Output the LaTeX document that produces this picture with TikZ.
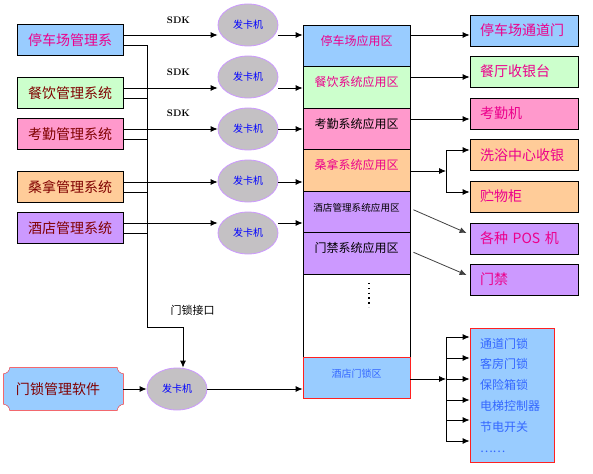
\documentclass[tikz,border=0pt]{standalone}
\usepackage{fontspec}
\newfontfamily\cjk{Noto Sans CJK SC}
\usepackage{tikz}
\usetikzlibrary{arrows.meta, shapes.geometric, backgrounds}
\definecolor{skyfill}{HTML}{99CCFF}
\definecolor{mintfill}{HTML}{CCFFCC}
\definecolor{rosefill}{HTML}{FF99CC}
\definecolor{peachfill}{HTML}{FFCC99}
\definecolor{lilacfill}{HTML}{CC99FF}
\definecolor{cardgray}{HTML}{C4C1C4}
\definecolor{cardline}{HTML}{CC99FF}
\definecolor{darkred}{HTML}{800000}
\definecolor{lockblue}{HTML}{3366FF}
\definecolor{lockred}{HTML}{FF2020}
\newlength{\zoneheight}
\setlength{\zoneheight}{41.5pt}
\tikzset{sysbox/.style = {shape=rectangle,draw,minimum width=106pt,minimum height=31pt,inner sep=0pt,text=darkred,font=\cjk\fontsize{14}{14}\selectfont}}
\tikzset{card/.style = {shape=ellipse,draw=cardline,fill=cardgray,minimum width=60pt,minimum height=42pt,inner sep=0pt,text=blue,font=\cjk\fontsize{10}{10}\selectfont}}
\tikzset{zone/.style = {shape=rectangle,draw,minimum width=107pt,minimum height=\zoneheight,inner sep=0pt,text height=10pt,text depth=11pt,font=\cjk\fontsize{12}{12}\selectfont}}
\tikzset{device/.style = {shape=rectangle,draw,minimum width=108pt,minimum height=31pt,text width=88pt,align=left,inner xsep=10pt,inner ysep=0pt,text=magenta,font=\cjk\fontsize{14}{14}\selectfont}}
\tikzset{sdk/.style = {font=\bfseries\fontsize{9.5}{9.5}\selectfont}}
\tikzset{edge/.style = {->,> = {Latex[length=7pt,width=6pt]}}}

\begin{document}
\begin{tikzpicture}[x=1pt,y=1pt,line width=0.8pt]
        \useasboundingbox (0,0) rectangle (593,-473);
        % management systems
        \node[sysbox,fill=skyfill,text=magenta] (s1) at (70,-40) {停车场管理系};
        \node[sysbox,fill=mintfill] (s2) at (70,-93) {餐饮管理系统};
        \node[sysbox,fill=rosefill] (s3) at (70,-134) {考勤管理系统};
        \node[sysbox,fill=peachfill] (s4) at (70,-187) {桑拿管理系统};
        \node[sysbox,fill=lilacfill] (s5) at (70,-228) {酒店管理系统};
        \node[sysbox,draw=none,minimum width=119pt,minimum height=42pt,text width=95pt,align=left,inner xsep=12pt] (dm) at (63.5,-389) {门锁管理软件};
        \begin{scope}[on background layer]
        \draw[draw=lockred,fill=skyfill] ([xshift=6pt]dm.north west) -- ([xshift=-6pt]dm.north east)
            arc[start angle=180,end angle=270,radius=6pt] -- ([yshift=6pt]dm.south east)
            arc[start angle=90,end angle=180,radius=6pt] -- ([xshift=6pt]dm.south west)
            arc[start angle=0,end angle=90,radius=6pt] -- ([yshift=-6pt]dm.north west)
            arc[start angle=270,end angle=360,radius=6pt] -- cycle;
        \end{scope}
        % card writers
        \node[card] (k1) at (248,-25) {发卡机};
        \node[card] (k2) at (248,-77) {发卡机};
        \node[card] (k3) at (248,-129) {发卡机};
        \node[card] (k4) at (248,-181) {发卡机};
        \node[card] (k5) at (248,-233) {发卡机};
        \node[card] (k6) at (177,-389) {发卡机};
        \node[sdk] (sdk1) at (178.5,-20) {SDK};
        \node[sdk] (sdk2) at (178.5,-72) {SDK};
        \node[sdk] (sdk3) at (178.5,-113) {SDK};
        \node[font=\cjk\fontsize{11}{11}\selectfont] (port) at (192.5,-310) {门锁接口};
        % card zones
        \node[zone,fill=skyfill,text=magenta] (a1) at (356.5,-45.75) {停车场应用区};
        \node[zone,fill=mintfill,text=magenta] (a2) at (356.5,-87.25) {餐饮系统应用区};
        \node[zone,fill=rosefill] (a3) at (356.5,-128.75) {考勤系统应用区};
        \node[zone,fill=peachfill,text=magenta] (a4) at (356.5,-170.25) {桑拿系统应用区};
        \node[zone,fill=lilacfill,font=\cjk\fontsize{9.6}{9.6}\selectfont] (a5) at (356.5,-211.75) {酒店管理系统应用区};
        \node[zone,fill=lilacfill] (a6) at (356.5,-253.25) {门禁系统应用区};
        \node[zone,fill=white,minimum height=2\zoneheight] (a7) at (356.5,-315.5) {};
        \node[zone,draw=lockred,fill=skyfill,text=lockblue,font=\cjk\fontsize{10}{10}\selectfont] (a8) at (356.5,-377.75) {酒店门锁区};
        \draw[line width=1.4pt,dash pattern=on 1.4pt off 3.4pt] (369,-283) -- (369,-307);
        % devices
        \node[device,fill=skyfill] (r1) at (524,-30.5) {停车场通道门};
        \node[device,fill=mintfill] (r2) at (524,-71.5) {餐厅收银台};
        \node[device,fill=rosefill] (r3) at (524,-113.5) {考勤机};
        \node[device,fill=peachfill] (r4) at (524,-155) {洗浴中心收银};
        \node[device,fill=peachfill] (r5) at (524,-196.5) {贮物柜};
        \node[device,fill=lilacfill] (r6) at (524,-238.5) {各种 POS 机};
        \node[device,fill=lilacfill] (r7) at (524,-279.5) {门禁};
        \node[device,draw=lockred,fill=skyfill,text=lockblue,minimum width=84pt,minimum height=134pt,text width=64pt,font=\cjk\fontsize{12}{20.8}\selectfont] (lk) at (512,-395) {通道门锁\\客房门锁\\保险箱锁\\电梯控制器\\节电开关\\……};
        % systems to card writers
        \draw[edge] ([yshift=5pt]s1.east) -- ([yshift=5pt]s1.east -| k1.west);
        \draw[edge] ([yshift=5pt]s2.east) -- ([yshift=5pt]s2.east -| k2.west);
        \draw[edge] ([yshift=5pt]s3.east) -- ([yshift=5pt]s3.east -| k3.west);
        \draw[edge] ([yshift=5pt]s4.east) -- ([yshift=5pt]s4.east -| k4.west);
        \draw[edge] ([yshift=5pt]s5.east) -- ([yshift=5pt]s5.east -| k5.west);
        % card writers to zones
        \draw[edge] ([yshift=5pt]s1.east -| k1.east) -- ([yshift=5pt]s1.east -| a1.west);
        \draw[edge] ([yshift=5pt]s2.east -| k2.east) -- ([yshift=5pt]s2.east -| a2.west);
        \draw[edge] ([yshift=5pt]s3.east -| k3.east) -- ([yshift=5pt]s3.east -| a3.west);
        \draw[edge] ([yshift=5pt]s4.east -| k4.east) -- ([yshift=5pt]s4.east -| a4.west);
        \draw[edge] ([yshift=5pt]s5.east -| k5.east) -- ([yshift=5pt]s5.east -| a5.west);
        % door lock interface
        \coordinate (bus) at (147,-327);
        \coordinate (bend) at (183,-327);
        \draw[edge] ([yshift=-5pt]s1.east) -| (bus) -- (bend) -- (bend |- k6.north);
        \draw ([yshift=-5pt]s2.east) -- ([yshift=-5pt]s2.east -| bus);
        \draw ([yshift=-5pt]s3.east) -- ([yshift=-5pt]s3.east -| bus);
        \draw ([yshift=-5pt]s4.east) -- ([yshift=-5pt]s4.east -| bus);
        \draw ([yshift=-5pt]s5.east) -- ([yshift=-5pt]s5.east -| bus);
        \draw[edge] (dm) -- (k6);
        \draw[edge] (k6.east) -- (k6.east -| a8.west);
        % zones to devices
        \draw[edge] ([yshift=-4.5pt]r1.west -| a1.east) -- ([yshift=-4.5pt]r1.west);
        \draw[edge] ([yshift=-5.5pt]r2.west -| a2.east) -- ([yshift=-5.5pt]r2.west);
        \draw[edge] ([yshift=-5.5pt]r3.west -| a3.east) -- ([yshift=-5.5pt]r3.west);
        \coordinate (sj) at (446,-171);
        \draw[edge] (a4.east |- sj) -- (sj);
        \draw[edge] (sj) |- ([yshift=5pt]r4.west);
        \draw[edge] (sj) |- ([yshift=4.5pt]r5.west);
        \draw[edge,draw=darkgray] ([xshift=3pt,yshift=2pt]a5.east) -- ([xshift=-3pt,yshift=5.5pt]r6.west);
        \draw[edge,draw=darkgray] ([xshift=3pt,yshift=1pt]a6.east) -- ([xshift=-3pt,yshift=4.5pt]r7.west);
        \coordinate (lj) at (446,-379);
        \draw[edge] (a8.east |- lj) -- (lj);
        \draw[edge] (lj) |- ([yshift=58pt]lk.west);
        \draw[edge] (lj) |- ([yshift=37pt]lk.west);
        \draw[edge] (lj) |- ([yshift=16pt]lk.west);
        \draw[edge] (lj) |- ([yshift=-5pt]lk.west);
        \draw[edge] (lj) |- ([yshift=-25pt]lk.west);
        \draw[edge] (lj) |- ([yshift=-46pt]lk.west);
\end{tikzpicture}
\end{document}
